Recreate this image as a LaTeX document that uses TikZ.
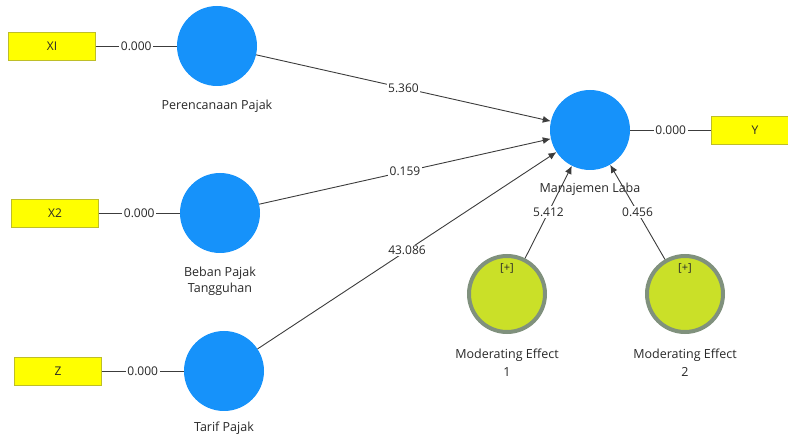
\documentclass[tikz,border=0pt]{standalone}
\usepackage{fontspec}
\setmainfont{Open Sans}
\usetikzlibrary{arrows.meta,positioning}
\definecolor{latente}{RGB}{22,146,250}
\definecolor{indicador}{RGB}{255,255,0}
\definecolor{bordeind}{RGB}{190,190,40}
\definecolor{moderador}{RGB}{202,224,40}
\definecolor{bordemod}{RGB}{128,145,125}
\definecolor{linea}{RGB}{60,60,60}
\definecolor{texto}{RGB}{40,40,40}
\begin{document}
\begin{tikzpicture}[x=1pt, y=-1pt, font=\fontsize{12}{16}\selectfont]
\clip (0,0) rectangle (788,438);

% Nodos latentes
\begin{scope}[
		every node/.style = {shape = circle, fill = latente,
		minimum size = 80pt, inner sep = 0pt}]
	\node (PP)  at (217,46)  {};
	\node (BPT) at (220,213) {};
	\node (TP)  at (224,371) {};
	\node (ML)  at (590,130) {};
\end{scope}

% Nodos moderadores
\begin{scope}[
		every node/.style = {shape = circle, fill = moderador,
		draw = bordemod, line width = 4pt, minimum size = 76pt, inner sep = 0pt}]
	\node (ME1) at (507,294) {};
	\node (ME2) at (685,294) {};
\end{scope}
\node[font = \fontsize{11}{12}\selectfont, text = texto] (ME1plus) at (507,268) {[+]};
\node[font = \fontsize{11}{12}\selectfont, text = texto] (ME2plus) at (685,268) {[+]};

% Indicadores
\begin{scope}[
		every node/.style = {shape = rectangle, fill = indicador,
		draw = bordeind, minimum width = 87pt, minimum height = 28pt, text = texto}]
	\node (X1) at (52,46)  {XI};
	\node (X2) at (55,213) {X2};
	\node (Z)  at (58,371) {Z};
	\node (Y)  at (755,130) {Y};
\end{scope}

% Etiquetas
\begin{scope}[
		every node/.style = {align = center, text = texto,
		font = \fontsize{12.5}{16}\selectfont}]
	\node (PPlab)  at (217,106) {Perencanaan Pajak};
	\node (BPTlab) at (220,281) {Beban Pajak\\Tangguhan};
	\node (TPlab)  at (224,428) {Tarif Pajak};
	\node (MLlab)  at (590,189) {Manajemen Laba};
	\node (ME1lab) at (507,363) {Moderating Effect\\[2pt]1};
	\node (ME2lab) at (685,363) {Moderating Effect\\[2pt]2};
\end{scope}

% Paths
\begin{scope}[
		every node/.style = {fill = white, inner sep = 1.5pt, text = texto},
		every edge/.style = {draw = linea, line width = .9pt,
		-{Latex[length = 8pt, width = 7pt]}}]
	\path (PP)  edge node {5.360}  (ML);
	\path (BPT) edge node {0.159}  (ML);
	\path (TP)  edge node {43.086} (ML);
	\path (ME1) edge node {5.412}  (ML);
	\path (ME2) edge node {0.456}  (ML);
\end{scope}

\begin{scope}[
		every node/.style = {fill = white, inner sep = 1.5pt, text = texto},
		every edge/.style = {draw = linea, line width = .9pt}]
	\path (X1) edge node {0.000} (PP);
	\path (X2) edge node {0.000} (BPT);
	\path (Z)  edge node {0.000} (TP);
	\path (ML) edge node {0.000} (Y);
\end{scope}
\end{tikzpicture}
\end{document}
